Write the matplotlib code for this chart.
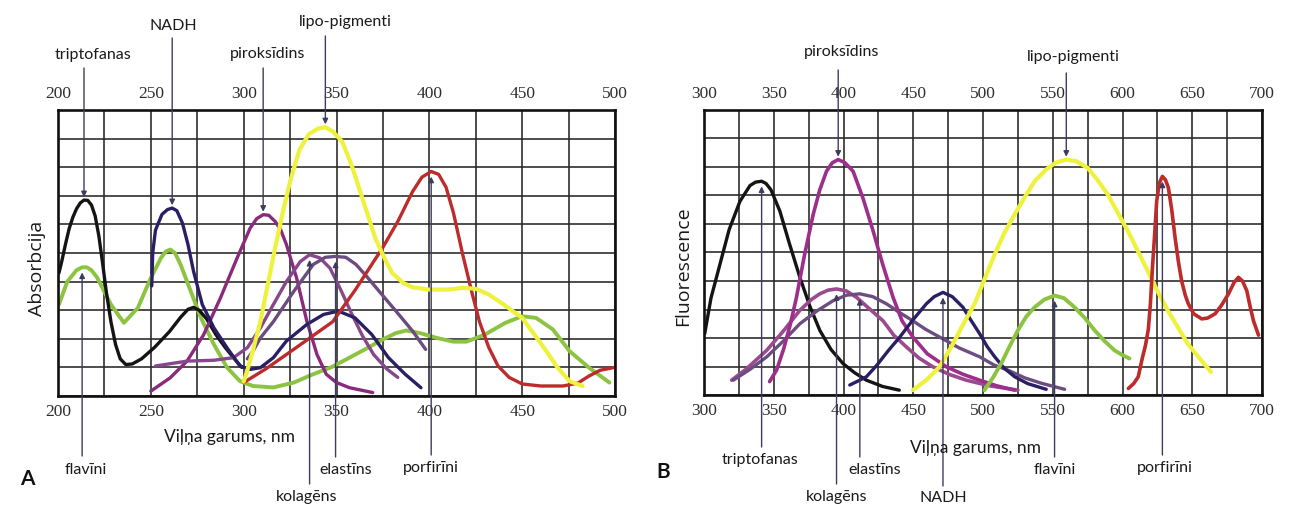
import numpy as np
import matplotlib.pyplot as plt

W, H = 1291, 509
plt.rcParams['font.family'] = ['Liberation Serif', 'DejaVu Serif']
SANS = ['Lato', 'DejaVu Sans']
WIDE = ['Open Sans', 'DejaVu Sans']

# ---- A: absorbcija (x - nm, y - rūtiņu skaits no apakšas) ----
a_trip_x = [200.5, 202, 204, 206, 208, 210, 212, 214, 216, 218, 220, 222, 224, 226, 228.5, 231, 233.5, 236.5, 240, 245, 252, 260, 266, 270, 273, 276, 280, 285, 290, 295, 299]
a_trip_y = [4.3, 4.7, 5.3, 5.85, 6.25, 6.55, 6.75, 6.85, 6.84, 6.68, 6.3, 5.6, 4.65, 3.65, 2.6, 1.8, 1.3, 1.1, 1.12, 1.3, 1.7, 2.25, 2.75, 3.03, 3.1, 3.0, 2.7, 2.15, 1.7, 1.3, 1.0]

a_flav_x = [200.5, 205, 210, 213, 215.5, 218, 221, 228.5, 235.5, 243, 250, 255.5, 258, 260.5, 263, 266, 271.5, 277, 284, 291, 298, 305, 316, 327, 337, 347, 357, 367, 375, 382, 387.5, 395, 404, 413, 420, 430, 441, 450, 457.5, 466.5, 475.5, 486, 497]
a_flav_y = [3.2, 4.0, 4.4, 4.5, 4.5, 4.4, 4.15, 3.2, 2.56, 3.08, 4.13, 4.83, 5.05, 5.12, 5.0, 4.6, 3.66, 2.73, 1.8, 1.0, 0.52, 0.35, 0.3, 0.47, 0.75, 1.0, 1.34, 1.69, 1.98, 2.2, 2.29, 2.2, 2.03, 1.9, 1.9, 2.15, 2.56, 2.79, 2.73, 2.33, 1.57, 0.99, 0.47]

a_nadh_x = [250.5, 251, 252.5, 256, 259, 261.5, 264, 267, 270, 273, 277.7, 284, 291, 298, 303.5, 309, 316, 323, 334, 343, 351, 360, 369, 378, 387, 395.5]
a_nadh_y = [3.85, 5.0, 5.8, 6.35, 6.52, 6.57, 6.48, 6.05, 5.3, 4.36, 3.2, 2.38, 1.69, 1.05, 0.93, 0.99, 1.34, 1.92, 2.5, 2.85, 2.97, 2.73, 2.15, 1.34, 0.76, 0.29]

a_pirok_x = [250, 260.5, 269.5, 278.5, 287.5, 296.5, 303.5, 307, 310.5, 313.5, 317, 320, 323, 328.5, 334, 339.5, 344.5, 350, 357, 369.5]
a_pirok_y = [0.17, 0.64, 1.22, 2.15, 3.43, 4.83, 5.87, 6.2, 6.34, 6.32, 6.1, 5.8, 5.3, 4.13, 2.62, 1.45, 0.76, 0.47, 0.29, 0.12]

a_kol_x = [252.5, 269.5, 284, 294.5, 302, 309, 316, 323, 330.5, 335.5, 341, 346.5, 352, 358, 364, 370, 377, 383]
a_kol_y = [1.05, 1.22, 1.25, 1.34, 1.69, 2.38, 3.2, 4.0, 4.7, 4.94, 4.83, 4.47, 3.75, 2.9, 2.1, 1.45, 0.95, 0.65]

a_elast_x = [302, 305, 309, 316, 327, 337.5, 344, 349.5, 355, 360.5, 366, 373, 382, 391, 398]
a_elast_y = [1.3, 1.57, 2.03, 2.6, 3.66, 4.6, 4.85, 4.88, 4.85, 4.6, 4.2, 3.66, 2.97, 2.27, 1.63]

a_lipo_x = [300, 302, 305, 309, 313, 317, 321, 325, 330, 335, 340, 344, 348, 353, 358, 362, 366, 371, 376, 380, 386, 391, 400, 410, 418, 425, 432, 440, 450, 456, 463, 469, 475.5, 482.5]
a_lipo_y = [0.5, 0.9, 1.6, 2.6, 3.9, 5.2, 6.4, 7.5, 8.6, 9.15, 9.35, 9.4, 9.25, 8.9, 8.1, 7.3, 6.5, 5.5, 4.8, 4.3, 3.95, 3.8, 3.72, 3.72, 3.78, 3.75, 3.55, 3.2, 2.73, 2.2, 1.57, 1.0, 0.52, 0.35]

a_porf_x = [300, 312, 323, 335, 348, 360, 368, 375, 383, 391, 396, 401, 405, 409, 413, 418, 423, 427, 432, 437, 443, 450, 460, 472, 480, 486, 492, 499]
a_porf_y = [0.47, 0.95, 1.45, 2.0, 2.6, 3.7, 4.5, 5.2, 6.1, 7.15, 7.65, 7.85, 7.75, 7.3, 6.4, 4.94, 3.6, 2.6, 1.7, 1.05, 0.65, 0.42, 0.35, 0.35, 0.45, 0.7, 0.9, 0.99]

# ---- B: fluorescence ----
b_trip_x = [300.5, 305, 311.5, 318, 325.8, 333, 337, 341.3, 344.5, 348, 354.4, 361, 368.7, 376, 383, 391, 399.7, 408, 416.4, 428, 440]
b_trip_y = [2.15, 3.4, 4.6, 5.8, 6.8, 7.35, 7.47, 7.5, 7.42, 7.2, 6.45, 5.35, 4.13, 3.1, 2.27, 1.6, 1.1, 0.78, 0.52, 0.3, 0.17]

b_pirok_x = [347, 352, 357, 362, 366.3, 372, 378.3, 383, 387.8, 392, 396.2, 401, 406.9, 414, 421.2, 428, 435.5, 442, 449.8, 460, 473.7, 486, 497.6, 510, 522.7]
b_pirok_y = [0.47, 0.87, 1.6, 2.5, 3.43, 4.9, 6.34, 7.2, 7.85, 8.15, 8.26, 8.15, 7.85, 6.9, 5.76, 4.6, 3.43, 2.6, 2.03, 1.45, 0.99, 0.72, 0.52, 0.32, 0.17]

b_kol_x = [319.8, 330, 345, 357, 368.7, 377, 383, 389, 395, 402, 409.3, 418, 428.4, 436, 445, 454, 464, 476, 488, 505, 525]
b_kol_y = [0.52, 0.9, 1.57, 2.25, 2.97, 3.35, 3.55, 3.68, 3.72, 3.65, 3.43, 3.05, 2.6, 2.1, 1.69, 1.3, 0.99, 0.72, 0.52, 0.32, 0.17]

b_elast_x = [321, 333, 345, 357, 368.7, 381, 392.6, 402, 411.7, 421, 430.8, 440, 449.8, 459, 469, 483, 497.6, 508, 518, 530, 542, 558.5]
b_elast_y = [0.52, 0.9, 1.34, 1.9, 2.5, 2.95, 3.31, 3.5, 3.55, 3.45, 3.2, 2.9, 2.6, 2.3, 2.03, 1.65, 1.34, 1.05, 0.87, 0.6, 0.41, 0.2]

b_nadh_x = [404.5, 410, 416.4, 424, 432, 440.3, 450, 459.4, 465, 471.3, 478, 485.6, 491, 497.6, 503, 508.4, 515, 522.7, 532, 545.3]
b_nadh_y = [0.35, 0.48, 0.64, 1.05, 1.55, 2.03, 2.65, 3.2, 3.45, 3.6, 3.45, 3.08, 2.65, 2.15, 1.7, 1.34, 0.95, 0.64, 0.4, 0.2]

b_lipo_x = [449.8, 460, 469, 478, 486, 494, 501, 508.4, 515, 522.7, 530, 537, 545, 552, 559.7, 567, 575, 582, 589.5, 596, 603.8, 611, 618, 625, 632.4, 640, 646.7, 655, 663.4]
b_lipo_y = [0.17, 0.55, 1.0, 1.75, 2.5, 3.2, 4.05, 4.94, 5.65, 6.34, 6.95, 7.5, 7.9, 8.15, 8.26, 8.2, 7.97, 7.55, 7.03, 6.45, 5.76, 5.05, 4.36, 3.65, 2.97, 2.35, 1.8, 1.3, 0.81]

b_flav_x = [501, 507, 513, 519, 525, 531, 537, 544, 551.3, 558, 565.6, 573, 580, 587, 594.2, 600, 605]
b_flav_y = [0.17, 0.6, 1.1, 1.7, 2.27, 2.75, 3.08, 3.35, 3.49, 3.4, 3.08, 2.7, 2.27, 1.9, 1.57, 1.4, 1.28]

b_porf_x = [604.2, 608, 611.3, 614, 616.5, 618.5, 620, 621.5, 623, 624.5, 626.5, 628.6, 630.8, 632.9, 635.3, 637.7, 640, 642.4, 645, 647.2, 651, 656.8, 661, 666.4, 671, 676, 680, 683.1, 686, 689.1, 691.5, 693.9, 697.5]
b_porf_y = [0.23, 0.4, 0.64, 1.25, 1.75, 2.3, 3.2, 4.5, 5.6, 6.8, 7.45, 7.67, 7.55, 7.27, 6.5, 5.52, 4.7, 4.0, 3.5, 3.2, 2.85, 2.67, 2.7, 2.85, 3.15, 3.55, 3.95, 4.13, 4.0, 3.66, 3.1, 2.6, 2.1]

BLACK = '#141414'
GREEN = '#8cc341'
NAVY = '#2a1f64'
YELLOW = '#eef23c'
RED = '#bd2b2b'
ARROW = '#3c3c5e'


def setup(ax, x0, x1):
    ax.set_xlim(x0, x1)
    ax.set_ylim(0, 10)
    ax.set_xticks(np.arange(x0, x1 + 1, 50))
    ax.set_xticks(np.arange(x0, x1 + 1, 25), minor=True)
    ax.set_yticks(np.arange(0, 11, 1))
    ax.set_yticklabels([])
    ax.grid(True, which='both', color='#262626', lw=1.15)
    ax.set_axisbelow(True)
    ax.tick_params(which='both', length=0, top=True, labeltop=True, left=False,
                   labelsize=12.5, colors='#2e2e2e')
    ax.tick_params(axis='x', which='major', pad=6)
    for t in ax.xaxis.get_major_ticks():
        t.label1.set_fontfamily('Liberation Serif')
        t.label2.set_fontfamily('Liberation Serif')
    for s in ax.spines.values():
        s.set_linewidth(1.9)
        s.set_color('#111111')


def peak(xs, ys, lo, hi):
    xs = np.array(xs)
    ys = np.array(ys)
    m = (xs >= lo) & (xs <= hi)
    i = np.argmax(np.where(m, ys, -1))
    return xs[i], ys[i]


def arrow(ax, x, y, y_px, down):
    # y_px - arrow tail, pixels from the top of the figure
    tip = y + 0.1 if down else y - 0.18
    ax.annotate('', xy=(x, tip), xycoords='data',
                xytext=(x, H - y_px), textcoords=('data', 'figure pixels'),
                arrowprops=dict(arrowstyle='-|>', color=ARROW, lw=1.0,
                                mutation_scale=8, shrinkA=0, shrinkB=0),
                annotation_clip=False)


def label(txt, px, py, size=11.5):
    fig.text(px / W, 1 - py / H, txt, ha='center', va='center',
             fontsize=size, family=SANS, color='#1a1a1a')


fig = plt.figure(figsize=(W / 100, H / 100), dpi=100)
fig.patch.set_facecolor('white')

axA = fig.add_axes([58 / W, 1 - 396 / H, 557 / W, 286 / H])
axB = fig.add_axes([704 / W, 1 - 395 / H, 558 / W, 285 / H])
setup(axA, 200, 500)
setup(axB, 300, 700)

# A
axA.plot(a_flav_x, a_flav_y, color=GREEN, lw=2.8)
axA.plot(a_trip_x, a_trip_y, color=BLACK, lw=2.4)
axA.plot(a_pirok_x, a_pirok_y, color='#8a2a7c', lw=2.4)
axA.plot(a_kol_x, a_kol_y, color='#87478d', lw=2.4)
axA.plot(a_elast_x, a_elast_y, color='#6c4b7e', lw=2.4)
axA.plot(a_nadh_x, a_nadh_y, color=NAVY, lw=2.4)
axA.plot(a_porf_x, a_porf_y, color=RED, lw=2.4)
axA.plot(a_lipo_x, a_lipo_y, color=YELLOW, lw=3.0)

# B
axB.plot(b_trip_x, b_trip_y, color=BLACK, lw=2.4)
axB.plot(b_kol_x, b_kol_y, color='#9c4a8f', lw=2.6)
axB.plot(b_elast_x, b_elast_y, color='#6c4d80', lw=2.4)
axB.plot(b_pirok_x, b_pirok_y, color='#9c2e8c', lw=2.6)
axB.plot(b_nadh_x, b_nadh_y, color=NAVY, lw=2.4)
axB.plot(b_flav_x, b_flav_y, color=GREEN, lw=2.8)
axB.plot(b_lipo_x, b_lipo_y, color=YELLOW, lw=3.0)
axB.plot(b_porf_x, b_porf_y, color=RED, lw=2.6)

for ax in (axA, axB):
    for ln in ax.lines:
        ln.set_solid_joinstyle('round')
        ln.set_solid_capstyle('round')

# bultas un nosaukumi, A
x, y = peak(a_trip_x, a_trip_y, 200, 230)
arrow(axA, x, y, 68, True)
label('triptofanas', 93, 55)
x, y = peak(a_nadh_x, a_nadh_y, 250, 280)
arrow(axA, x, y, 38, True)
label('NADH', 173, 26)
x, y = peak(a_pirok_x, a_pirok_y, 290, 330)
arrow(axA, x, y, 68, True)
label('piroksīdins', 268, 54)
x, y = peak(a_lipo_x, a_lipo_y, 320, 370)
arrow(axA, x, y, 36, True)
label('lipo-pigmenti', 345, 22)
x, y = peak(a_flav_x, a_flav_y, 200, 230)
arrow(axA, x, y, 456, False)
label('flavīni', 86, 470)
x, y = peak(a_kol_x, a_kol_y, 320, 350)
arrow(axA, x, y, 484, False)
label('kolagēns', 307, 497)
x, y = peak(a_elast_x, a_elast_y, 340, 360)
arrow(axA, x, y, 457, False)
label('elastīns', 346, 470)
x, y = peak(a_porf_x, a_porf_y, 380, 420)
arrow(axA, x, y, 455, False)
label('porfirīni', 431, 468)

# bultas un nosaukumi, B
x, y = peak(b_pirok_x, b_pirok_y, 380, 410)
arrow(axB, x, y, 70, True)
label('piroksīdins', 842, 52)
x, y = peak(b_lipo_x, b_lipo_y, 540, 580)
arrow(axB, x, y, 73, True)
label('lipo-pigmenti', 1073, 57)
x, y = peak(b_trip_x, b_trip_y, 320, 360)
arrow(axB, x, y, 447, False)
label('triptofanas', 760, 460)
x, y = peak(b_kol_x, b_kol_y, 380, 410)
arrow(axB, x, y, 484, False)
label('kolagēns', 837, 497)
x, y = peak(b_elast_x, b_elast_y, 400, 430)
arrow(axB, x, y, 457, False)
label('elastīns', 875, 470)
x, y = peak(b_nadh_x, b_nadh_y, 450, 490)
arrow(axB, x, y, 486, False)
label('NADH', 943, 498)
x, y = peak(b_flav_x, b_flav_y, 530, 570)
arrow(axB, x, y, 457, False)
label('flavīni', 1055, 470)
x, y = peak(b_porf_x, b_porf_y, 615, 640)
arrow(axB, x, y, 455, False)
label('porfirīni', 1165, 468)

# asu nosaukumi
label('Viļņa garums, nm', 230, 437, 12.5)
label('Viļņa garums, nm', 975, 448, 12.5)
fig.text(37 / W, 1 - 268 / H, 'Absorbcija', rotation=90, ha='center', va='center',
         fontsize=14, family=WIDE, color='#1a1a1a')
fig.text(683 / W, 1 - 266 / H, 'Fluorescence', rotation=90, ha='center', va='center',
         fontsize=14, family=WIDE, color='#1a1a1a')
fig.text(27 / W, 1 - 479 / H, 'A', ha='center', va='center', fontsize=15,
         fontweight='bold', family=SANS, color='#111111')
fig.text(663 / W, 1 - 472 / H, 'B', ha='center', va='center', fontsize=15,
         fontweight='bold', family=SANS, color='#111111')

fig.savefig('out.png', dpi=100)
